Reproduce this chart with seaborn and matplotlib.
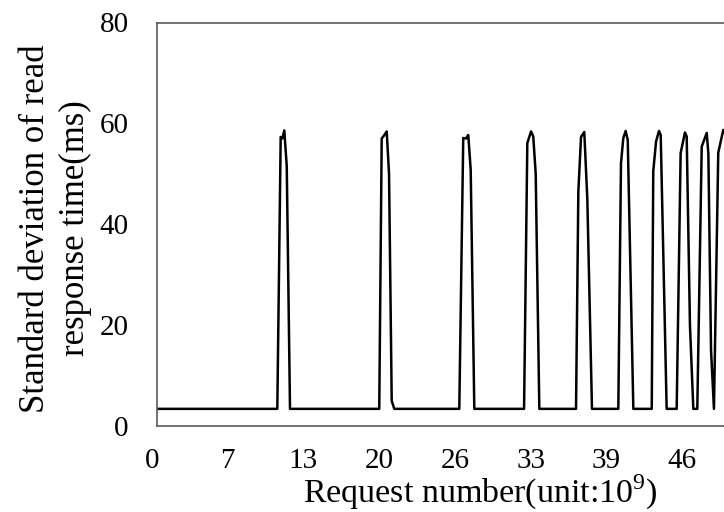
import matplotlib
matplotlib.use("Agg")
import matplotlib.pyplot as plt
import matplotlib.transforms as mtransforms
import seaborn as sns
import pandas as pd

# Request number (unit: 10^9) and standard deviation of read response time (ms)
request_number = [
    0.00, 10.37, 10.66, 10.80, 10.97, 11.18, 11.46,
    19.12, 19.33, 19.53, 19.76, 19.96, 20.19, 20.41,
    25.99, 26.33, 26.57, 26.76, 26.97, 27.28,
    31.55, 31.83, 32.15, 32.34, 32.55, 32.86,
    36.01, 36.21, 36.44, 36.72, 36.98, 37.38,
    39.64, 39.87, 40.07, 40.27, 40.45, 40.93,
    42.51, 42.64, 42.88, 43.13, 43.28, 43.79,
    44.65, 44.99, 45.36, 45.51, 45.79, 46.08,
    46.42, 46.80, 47.23, 47.37, 47.60, 47.85,
    48.22, 48.65, 48.95,
]
std_dev_ms = [
    3.4, 3.4, 57.3, 57.0, 58.6, 51.5, 3.4,
    3.4, 57.0, 57.6, 58.4, 50.0, 5.0, 3.4,
    3.4, 57.1, 57.0, 57.7, 50.8, 3.4,
    3.4, 56.1, 58.4, 57.4, 50.0, 3.4,
    3.4, 46.5, 57.3, 58.3, 45.0, 3.4,
    3.4, 52.1, 57.1, 58.5, 56.7, 3.4,
    3.4, 50.5, 56.4, 58.5, 57.7, 3.4,
    3.4, 54.1, 58.2, 57.4, 20.0, 3.4,
    3.4, 55.4, 58.1, 54.0, 15.0, 3.4,
    54.2, 58.7, 57.5,
]

x_ticks = [0, 6.5, 13, 19.5, 26, 32.5, 39, 45.5]
x_tick_labels = ["0", "7", "13", "20", "26", "33", "39", "46"]
y_ticks = [0, 20, 40, 60, 80]

df = pd.DataFrame({"request": request_number, "std": std_dev_ms})

sns.set_theme(style="white")
plt.rcParams["font.family"] = ["Liberation Serif", "DejaVu Serif"]
plt.rcParams["mathtext.fontset"] = "custom"
plt.rcParams["mathtext.rm"] = "Liberation Serif"

DPI = 100
fig = plt.figure(figsize=(7.24, 5.12), dpi=DPI)
fig.patch.set_facecolor("white")
ax = fig.add_axes([156.5 / 724, (512 - 426) / 512, 1 - 156.5 / 724, (426 - 22.5) / 512])

sns.lineplot(data=df, x="request", y="std", ax=ax, color="black",
             linewidth=1.8, estimator=None, sort=False)

ax.set_xlim(0, (724 - 156.5) / 11.65)
ax.set_ylim(0, 80)

ax.set_xticks(x_ticks)
ax.set_xticklabels(x_tick_labels)
ax.set_yticks(y_ticks)
ax.tick_params(axis="both", length=0, labelsize=21, colors="black")
ax.tick_params(axis="x", pad=16)
ax.tick_params(axis="y", pad=20)

# nudge the category labels slightly left of their tick positions
shift = mtransforms.ScaledTranslation(-4.5 / DPI, 0, fig.dpi_scale_trans)
for lab in ax.get_xticklabels():
    lab.set_transform(lab.get_transform() + shift)

ax.set_xlabel("Request number(unit:10$^{\\mathrm{9}}$)", fontsize=24.5,
              color="black", va="bottom")
ax.xaxis.set_label_coords(0.570, -0.2125)
ax.set_ylabel("Standard deviation of read\nresponse time(ms)", fontsize=25,
              color="black", linespacing=1.25, ha="center", va="center")
ax.yaxis.set_label_coords(-0.178, 0.49)

for side in ["top", "left", "bottom"]:
    ax.spines[side].set_color("#595959")
    ax.spines[side].set_linewidth(1.2)
ax.spines["right"].set_visible(False)
ax.grid(False)

fig.savefig("out.png", dpi=DPI, facecolor="white")
